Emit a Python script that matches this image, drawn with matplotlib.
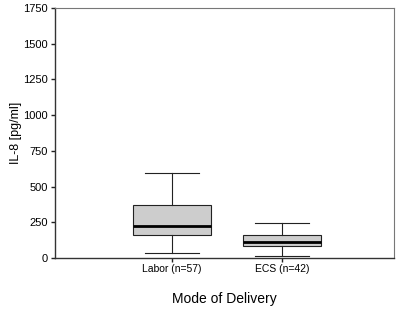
import matplotlib
matplotlib.use("Agg")
import matplotlib.pyplot as plt

# box statistics (pg/ml)
groups = ["Labor (n=57)", "ECS (n=42)"]
whislo = [38, 17]
q1 = [159, 87]
med = [222, 110]
q3 = [370, 159]
whishi = [592, 248]

y_ticks = [0, 250, 500, 750, 1000, 1250, 1500, 1750]

plt.rcParams['font.family'] = ['Liberation Sans', 'DejaVu Sans']

fig = plt.figure(figsize=(4.01, 3.09), dpi=100)
ax = fig.add_axes([0.137, 0.165, 0.846, 0.809])

stats = []
for i, g in enumerate(groups):
    stats.append({'label': g, 'whislo': whislo[i], 'q1': q1[i], 'med': med[i],
                  'q3': q3[i], 'whishi': whishi[i], 'fliers': []})

ax.bxp(stats, positions=[1, 2], widths=0.71, patch_artist=True,
       showfliers=False,
       boxprops=dict(facecolor='#cdcdcd', edgecolor='#222222', linewidth=0.8),
       medianprops=dict(color='black', linewidth=2.0),
       whiskerprops=dict(color='#222222', linewidth=0.8),
       capprops=dict(color='#222222', linewidth=0.8),
       capwidths=0.49)

ax.set_xlim(-0.06, 3.02)
ax.set_ylim(0, 1750)
ax.set_yticks(y_ticks)
ax.set_xticks([1, 2])
ax.set_xticklabels(groups)
ax.tick_params(axis='both', length=3, width=1, direction='out', color='#222222')
ax.tick_params(axis='x', labelsize=7.5, pad=1.5)
ax.tick_params(axis='y', labelsize=8, pad=2)

for side in ['left', 'bottom']:
    ax.spines[side].set_linewidth(1.0)
    ax.spines[side].set_color('#333333')
for side in ['top', 'right']:
    ax.spines[side].set_linewidth(0.8)
    ax.spines[side].set_color('#777777')

ax.set_ylabel('IL-8 [pg/ml]', fontsize=9)
ax.yaxis.set_label_coords(-0.098, 0.5)
ax.set_xlabel('Mode of Delivery', fontsize=10, labelpad=13)

fig.savefig('out.png', dpi=100)
